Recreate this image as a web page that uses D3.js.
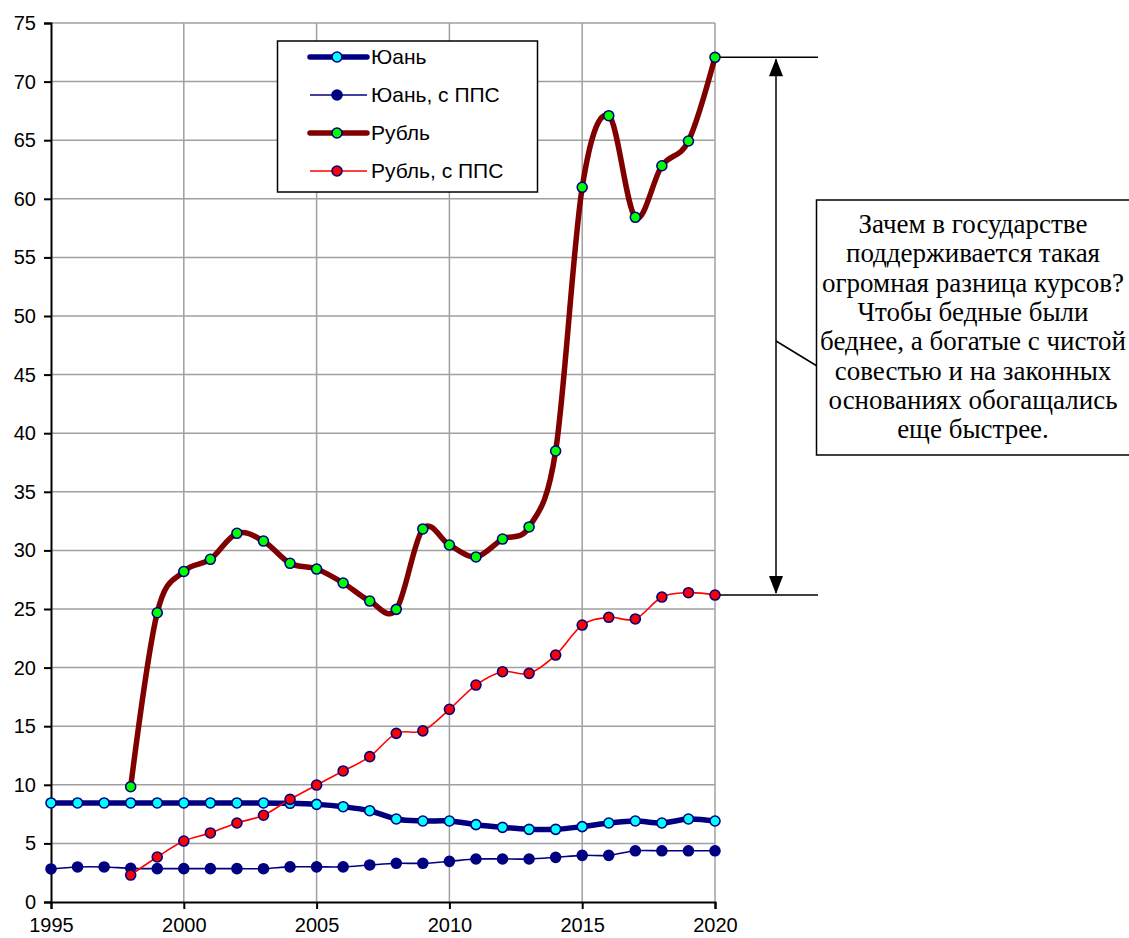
<!DOCTYPE html>
<html>
<head>
<meta charset="utf-8">
<script src="https://cdn.jsdelivr.net/npm/d3@7/dist/d3.min.js"></script>
<style>
  body { margin: 0; background: #fff; }
  svg { display: block; }
  .tick text { font-family: "Liberation Sans", Arial, sans-serif; font-size: 20px; fill: #000; }
  .note { font-family: "Liberation Serif", "Times New Roman", serif; font-size: 27px; }
</style>
</head>
<body>
<div id="chart"></div>
<script>
// years and values
const years = d3.range(1995, 2021);
const yuan = [8.45, 8.45, 8.45, 8.45, 8.45, 8.45, 8.45, 8.45, 8.45, 8.42, 8.33, 8.13, 7.79, 7.08, 6.91, 6.91, 6.6, 6.37, 6.2, 6.2, 6.43, 6.74, 6.91, 6.74, 7.08, 6.91];
const yuanPpp = [2.82, 2.99, 2.99, 2.87, 2.85, 2.85, 2.85, 2.85, 2.84, 3.0, 3.0, 3.0, 3.16, 3.3, 3.3, 3.47, 3.67, 3.67, 3.67, 3.81, 3.98, 3.98, 4.37, 4.37, 4.37, 4.37];
const rubleYears = d3.range(1998, 2021);
const ruble = [9.84, 24.68, 28.2, 29.24, 31.46, 30.8, 28.9, 28.41, 27.22, 25.68, 24.97, 31.83, 30.46, 29.44, 30.97, 32.0, 38.48, 60.98, 67.09, 58.42, 62.82, 64.93, 72.07];
const rublePpp = [2.3, 3.84, 5.2, 5.89, 6.74, 7.4, 8.76, 9.98, 11.18, 12.4, 14.39, 14.6, 16.44, 18.51, 19.65, 19.51, 21.07, 23.63, 24.29, 24.15, 26.02, 26.39, 26.19];
const yTicks = d3.range(0, 76, 5);
const xTicks = [1995, 2000, 2005, 2010, 2015, 2020];
const note = ["Зачем в государстве", "поддерживается такая", "огромная разница курсов?", "Чтобы бедные были", "беднее, а богатые с чистой", "совестью и на законных", "основаниях обогащались", "еще быстрее."];

const series = [
  { name: "Юань", xs: years, ys: yuan, line: "#000080", width: 5.5, fill: "#00ffff", stroke: "#000080" },
  { name: "Юань, с ППС", xs: years, ys: yuanPpp, line: "#000080", width: 1.6, fill: "#000080", stroke: "#000080" },
  { name: "Рубль", xs: rubleYears, ys: ruble, line: "#800000", width: 5.5, fill: "#00ff00", stroke: "#000080" },
  { name: "Рубль, с ППС", xs: rubleYears, ys: rublePpp, line: "#ff0000", width: 1.6, fill: "#ff0000", stroke: "#000080" }
];

var svg = d3.select("#chart").append("svg").attr("width", 1129).attr("height", 938);

var x = d3.scaleLinear().domain([1995, 2020]).range([51, 715]),
    y = d3.scaleLinear().domain([0, 75]).range([902, 23]);

// grid
svg.append("g")
    .selectAll("line.h")
    .data(yTicks.filter(d => d > 0))
    .enter().append("line")
      .attr("x1", x(1995)).attr("x2", x(2020))
      .attr("y1", d => y(d)).attr("y2", d => y(d))
      .attr("stroke", "#a0a0a0").attr("stroke-width", 1.5);

svg.append("g")
    .selectAll("line.v")
    .data(xTicks.filter(d => d > 1995))
    .enter().append("line")
      .attr("x1", d => x(d)).attr("x2", d => x(d))
      .attr("y1", y(0)).attr("y2", y(75))
      .attr("stroke", "#a0a0a0").attr("stroke-width", 1.5);

// axes
var yAxis = svg.append("g")
    .attr("transform", "translate(" + x(1995) + ",0)")
    .call(d3.axisLeft(y).tickValues(yTicks).tickSize(7).tickPadding(8));
var xAxis = svg.append("g")
    .attr("transform", "translate(0," + y(0) + ")")
    .call(d3.axisBottom(x).tickValues(xTicks).tickFormat(d3.format("d")).tickSize(7).tickPadding(9));
[yAxis, xAxis].forEach(a => {
  a.select(".domain").attr("stroke", "#000").attr("stroke-width", 2);
  a.selectAll(".tick line").attr("stroke", "#000").attr("stroke-width", 2);
});

// series
var line = d3.line().curve(d3.curveCardinal.tension(0));
series.forEach(s => {
  var pts = s.xs.map((yr, i) => [x(yr), y(s.ys[i])]);
  svg.append("path")
      .attr("d", line(pts))
      .attr("fill", "none")
      .attr("stroke", s.line)
      .attr("stroke-width", s.width)
      .attr("stroke-linejoin", "round");
  svg.append("g")
    .selectAll("circle")
    .data(pts)
    .enter().append("circle")
      .attr("cx", d => d[0])
      .attr("cy", d => d[1])
      .attr("r", 5)
      .attr("fill", s.fill)
      .attr("stroke", s.stroke)
      .attr("stroke-width", 1.6);
});

// legend
var lg = svg.append("g");
lg.append("rect")
    .attr("x", 277.5).attr("y", 41)
    .attr("width", 260).attr("height", 151)
    .attr("fill", "#fff").attr("stroke", "#000").attr("stroke-width", 1.5);
series.forEach((s, i) => {
  var cy = 57 + i * 38;
  lg.append("line")
      .attr("x1", 310).attr("x2", 367)
      .attr("y1", cy).attr("y2", cy)
      .attr("stroke", s.line).attr("stroke-width", s.width)
      .attr("stroke-linecap", s.width > 3 ? "round" : "butt");
  lg.append("circle")
      .attr("cx", 337).attr("cy", cy).attr("r", 5)
      .attr("fill", s.fill).attr("stroke", s.stroke).attr("stroke-width", 1.6);
  lg.append("text")
      .attr("x", 371).attr("y", cy)
      .attr("dy", "0.35em")
      .attr("font-family", "Liberation Sans, Arial, sans-serif")
      .attr("font-size", 21)
      .text(s.name);
});

// annotation: gap between ruble and ruble PPP in 2020
var yTop = y(ruble[ruble.length - 1]),
    yBot = y(rublePpp[rublePpp.length - 1]),
    ax = 776;
var ann = svg.append("g").attr("stroke", "#000").attr("stroke-width", 1.5);
[yTop, yBot].forEach(yy => {
  ann.append("line").attr("x1", x(2020) + 5).attr("x2", 818).attr("y1", yy).attr("y2", yy);
});
ann.append("line").attr("x1", ax).attr("x2", ax).attr("y1", yTop + 2).attr("y2", yBot - 2);
svg.append("path")
    .attr("d", "M" + ax + "," + (yTop + 1) + "l-7,18h14z")
    .attr("fill", "#000");
svg.append("path")
    .attr("d", "M" + ax + "," + (yBot - 1) + "l-7,-18h14z")
    .attr("fill", "#000");
ann.append("line").attr("x1", ax).attr("y1", 341).attr("x2", 817).attr("y2", 366);

var box = svg.append("g");
box.append("rect")
    .attr("x", 816.5).attr("y", 200)
    .attr("width", 320).attr("height", 255)
    .attr("fill", "#fff").attr("stroke", "#000").attr("stroke-width", 1.5);
box.selectAll("text")
    .data(note)
    .enter().append("text")
      .attr("class", "note")
      .attr("x", 973)
      .attr("y", (d, i) => 233 + i * 29.3)
      .attr("text-anchor", "middle")
      .text(d => d);
</script>
</body>
</html>
